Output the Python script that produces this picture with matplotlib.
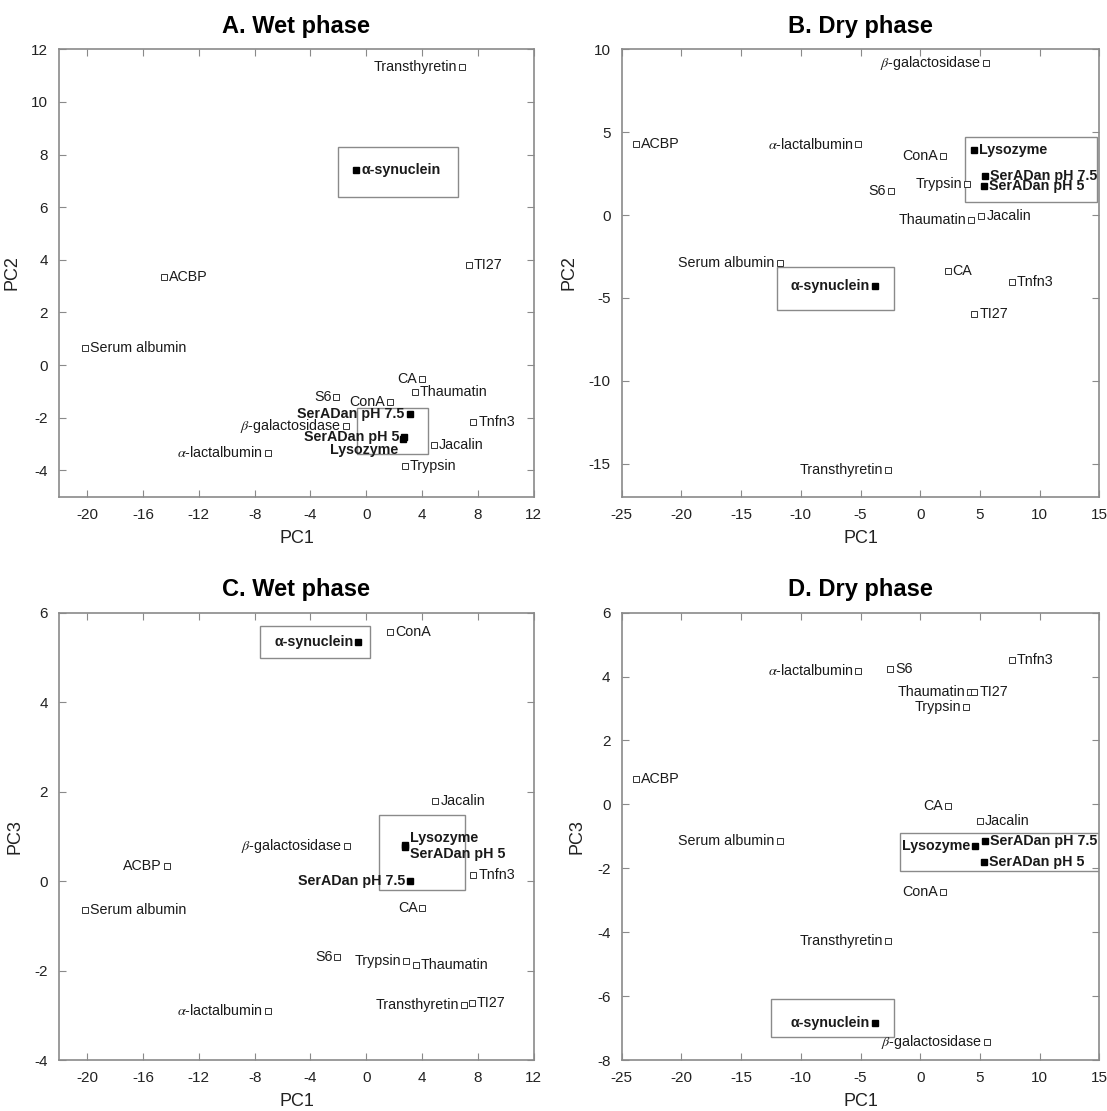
import matplotlib.pyplot as plt
from matplotlib.patches import Rectangle

plt.rcParams['font.family'] = ['Liberation Sans', 'DejaVu Sans']
plt.rcParams['mathtext.fontset'] = 'stix'
plt.rcParams['axes.unicode_minus'] = False

ALAC = r'$\alpha$-lactalbumin'
BGAL = r'$\beta$-galactosidase'
ASYN = 'α-synuclein'

# ---- A. Wet phase (PC1 vs PC2) ----
a_names = ['Transthyretin', ASYN, 'TI27', 'ACBP', 'Serum albumin', 'CA',
           'Thaumatin', 'S6', 'ConA', 'SerADan pH 7.5', 'Tnfn3', BGAL,
           'SerADan pH 5', 'Lysozyme', 'Jacalin', ALAC, 'Trypsin']
a_pc1 = [6.88, -0.71, 7.38, -14.48, -20.15, 3.98, 3.48, -2.14, 1.71, 3.10,
         7.68, -1.44, 2.72, 2.65, 4.86, -7.05, 2.77]
a_pc2 = [11.34, 7.42, 3.80, 3.33, 0.66, -0.54, -1.01, -1.20, -1.39, -1.87,
         -2.15, -2.32, -2.72, -2.80, -3.04, -3.33, -3.82]
a_side = ['l', 'r', 'r', 'r', 'r', 'l', 'r', 'l', 'l', 'l', 'r', 'l', 'l',
          ('l', -8), 'r', 'l', 'r']

# ---- B. Dry phase (PC1 vs PC2) ----
b_names = [BGAL, 'ACBP', ALAC, 'Lysozyme', 'ConA', 'SerADan pH 7.5',
           'SerADan pH 5', 'Trypsin', 'S6', 'Thaumatin', 'Jacalin',
           'Serum albumin', 'CA', ASYN, 'Tnfn3', 'TI27', 'Transthyretin']
b_pc1 = [5.49, -23.8, -5.19, 4.54, 1.93, 5.40, 5.34, 3.92, -2.43, 4.24, 5.13,
         -11.78, 2.31, -3.80, 7.66, 4.54, -2.73]
b_pc2 = [9.15, 4.26, 4.26, 3.90, 3.54, 2.38, 1.78, 1.88, 1.43, -0.28, -0.08,
         -2.87, -3.37, -4.29, -4.05, -5.97, -15.38]
b_side = ['l', 'r', 'l', 'r', 'l', 'r', 'r', 'l', 'l', 'l', 'r', 'l', 'r',
          'l', 'r', 'r', 'l']

# ---- C. Wet phase (PC1 vs PC3) ----
c_names = [ASYN, 'ConA', 'Jacalin', 'Lysozyme', 'SerADan pH 5', BGAL, 'ACBP',
           'Tnfn3', 'SerADan pH 7.5', 'Serum albumin', 'CA', 'S6', 'Trypsin',
           'Thaumatin', 'Transthyretin', 'TI27', ALAC]
c_pc1 = [-0.58, 1.71, 4.96, 2.77, 2.80, -1.39, -14.3, 7.68, 3.15, -20.15,
         4.03, -2.07, 2.85, 3.53, 7.00, 7.56, -7.05]
c_pc3 = [5.34, 5.57, 1.78, 0.80, 0.76, 0.78, 0.33, 0.13, 0.01, -0.65, -0.61,
         -1.69, -1.78, -1.87, -2.78, -2.73, -2.90]
c_side = ['l', 'r', 'r', ('r', 5), ('r', -5), 'l', 'l', 'r', 'l', 'r', 'l',
          'l', 'l', 'r', 'l', 'r', 'l']

# ---- D. Dry phase (PC1 vs PC3) ----
d_names = [ALAC, 'S6', 'Tnfn3', 'Thaumatin', 'TI27', 'Trypsin', 'ACBP', 'CA',
           'Jacalin', 'Serum albumin', 'Lysozyme', 'SerADan pH 7.5',
           'SerADan pH 5', 'ConA', 'Transthyretin', ASYN, BGAL]
d_pc1 = [-5.19, -2.52, 7.66, 4.15, 4.54, 3.86, -23.8, 2.31, 4.99, -11.78,
         4.60, 5.40, 5.34, 1.93, -2.73, -3.80, 5.58]
d_pc3 = [4.18, 4.23, 4.52, 3.53, 3.53, 3.06, 0.79, -0.04, -0.51, -1.16,
         -1.30, -1.16, -1.81, -2.75, -4.28, -6.85, -7.45]
d_side = ['l', 'r', 'r', 'l', 'r', 'l', 'r', 'l', 'r', 'l', 'l', 'r', 'r',
          'l', 'l', 'l', 'l']

# highlighted proteins (filled markers, bold labels)
filled = {ASYN, 'Lysozyme', 'SerADan pH 7.5', 'SerADan pH 5'}

# boxes drawn around highlighted groups: (x0, x1, y0, y1)
a_boxes = [(-2.02, 6.55, 6.40, 8.29), (-0.63, 4.41, -3.38, -1.62)]
b_boxes = [(3.77, 14.84, 0.77, 4.71), (-11.96, -2.2, -5.73, -3.13)]
c_boxes = [(-7.63, 0.25, 4.98, 5.70), (0.93, 7.10, -0.21, 1.48)]
d_boxes = [(-1.69, 15.0, -2.08, -0.91), (-12.52, -2.17, -7.29, -6.10)]

W, H = 1107, 1111
fig = plt.figure(figsize=(W / 100, H / 100), dpi=100)

GREY = '#8a8a8a'
TXT = '#1a1a1a'


def panel(rect, title, names, xs, ys, sides, boxes, xlim, ylim, xticks,
          yticks, ylabel):
    ax = fig.add_axes(rect)
    for name, x, y, side in zip(names, xs, ys, sides):
        bold = name in filled
        if bold:
            ax.plot(x, y, 's', ms=4.5, mfc='black', mec='black', zorder=3)
        else:
            ax.plot(x, y, 's', ms=4.2, mfc='white', mec='#333333', mew=0.7,
                    zorder=3)
        dy = 0
        if isinstance(side, tuple):
            side, dy = side
        dx = -3.5 if side == 'l' else 3.5
        ax.annotate(name, (x, y), xytext=(dx, dy), textcoords='offset points',
                    ha='right' if side == 'l' else 'left', va='center',
                    fontsize=10.3, color=TXT,
                    fontweight='bold' if bold else 'normal', zorder=4)
    for x0, x1, y0, y1 in boxes:
        ax.add_patch(Rectangle((x0, y0), x1 - x0, y1 - y0, fill=False,
                               ec=GREY, lw=1.0, zorder=2))
    ax.set_xlim(*xlim)
    ax.set_ylim(*ylim)
    ax.set_xticks(xticks)
    ax.set_yticks(yticks)
    for s in ax.spines.values():
        s.set_color(GREY)
        s.set_linewidth(1.2)
    ax.tick_params(direction='in', top=True, right=True, length=5,
                   color=GREY, labelsize=11, labelcolor='#222222', pad=8)
    ax.set_title(title, fontsize=17, fontweight='bold', pad=12)
    ax.set_xlabel('PC1', fontsize=13, color='#222222', labelpad=6)
    ax.set_ylabel(ylabel, fontsize=13, color='#222222', labelpad=8)
    return ax


wx = 474.4 / W
wx2 = 477.6 / W
hy = 447.4 / H
panel([59.3 / W, 1 - 496.7 / H, wx, hy], 'A. Wet phase', a_names, a_pc1,
      a_pc2, a_side, a_boxes, (-22, 12), (-5, 12), range(-20, 13, 4),
      range(-4, 13, 2), 'PC2')
panel([621.7 / W, 1 - 496.7 / H, wx2, hy], 'B. Dry phase', b_names, b_pc1,
      b_pc2, b_side, b_boxes, (-25, 15), (-17, 10), range(-25, 16, 5),
      range(-15, 11, 5), 'PC2')
panel([59.3 / W, 1 - 1060 / H, wx, hy], 'C. Wet phase', c_names, c_pc1,
      c_pc3, c_side, c_boxes, (-22, 12), (-4, 6), range(-20, 13, 4),
      range(-4, 7, 2), 'PC3')
panel([621.7 / W, 1 - 1060 / H, wx2, hy], 'D. Dry phase', d_names, d_pc1,
      d_pc3, d_side, d_boxes, (-25, 15), (-8, 6), range(-25, 16, 5),
      range(-8, 7, 2), 'PC3')

fig.savefig('out.png', dpi=100)
